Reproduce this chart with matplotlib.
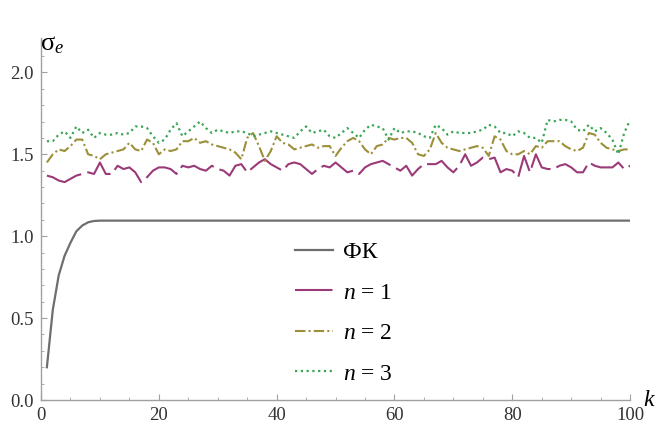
import matplotlib.pyplot as plt
from matplotlib.ticker import MultipleLocator, FormatStrFormatter

plt.rcParams['font.family'] = 'serif'
plt.rcParams['font.serif'] = ['Liberation Serif', 'DejaVu Serif']
plt.rcParams['mathtext.fontset'] = 'custom'
plt.rcParams['mathtext.rm'] = 'Liberation Serif'
plt.rcParams['mathtext.it'] = 'Liberation Serif:italic'

k = list(range(1, 101))

# filter (ФК) curve
fk = [0.20, 0.55, 0.76, 0.88, 0.96, 1.03, 1.065, 1.085, 1.093] + [1.095] * 91

n1 = [1.37, 1.36, 1.34, 1.33, 1.35, 1.37, 1.38, 1.39, 1.38, 1.45,
      1.38, 1.38, 1.43, 1.41, 1.42, 1.39, 1.33, 1.36, 1.40, 1.42,
      1.42, 1.41, 1.38, 1.43, 1.42, 1.43, 1.41, 1.40, 1.43, 1.41,
      1.40, 1.37, 1.43, 1.44, 1.39, 1.42, 1.45, 1.47, 1.44, 1.42,
      1.40, 1.44, 1.45, 1.44, 1.41, 1.38, 1.41, 1.43, 1.42, 1.45,
      1.42, 1.39, 1.40, 1.38, 1.42, 1.44, 1.45, 1.46, 1.44, 1.42,
      1.40, 1.43, 1.37, 1.41, 1.44, 1.44, 1.44, 1.46, 1.42, 1.39,
      1.43, 1.50, 1.43, 1.45, 1.48, 1.47, 1.48, 1.39, 1.41, 1.40,
      1.36, 1.49, 1.39, 1.50, 1.42, 1.41, 1.41, 1.43, 1.44, 1.42,
      1.39, 1.39, 1.45, 1.43, 1.42, 1.42, 1.42, 1.45, 1.41, 1.43]

n2 = [1.45, 1.50, 1.53, 1.52, 1.55, 1.59, 1.59, 1.50, 1.49, 1.47,
      1.50, 1.51, 1.52, 1.53, 1.57, 1.53, 1.52, 1.59, 1.57, 1.50,
      1.53, 1.52, 1.53, 1.58, 1.58, 1.60, 1.57, 1.58, 1.56, 1.55,
      1.54, 1.53, 1.51, 1.47, 1.60, 1.63, 1.55, 1.46, 1.52, 1.61,
      1.57, 1.56, 1.53, 1.54, 1.55, 1.56, 1.54, 1.55, 1.55, 1.49,
      1.54, 1.58, 1.60, 1.58, 1.53, 1.50, 1.55, 1.56, 1.60, 1.59,
      1.60, 1.60, 1.57, 1.50, 1.49, 1.53, 1.63, 1.57, 1.54, 1.53,
      1.52, 1.53, 1.54, 1.55, 1.54, 1.49, 1.61, 1.59, 1.52, 1.50,
      1.50, 1.52, 1.50, 1.55, 1.54, 1.58, 1.58, 1.58, 1.55, 1.53,
      1.52, 1.54, 1.63, 1.62, 1.57, 1.54, 1.53, 1.52, 1.53, 1.53]

n3 = [1.58, 1.58, 1.62, 1.64, 1.60, 1.67, 1.63, 1.65, 1.60, 1.63,
      1.62, 1.62, 1.63, 1.62, 1.63, 1.67, 1.67, 1.66, 1.61, 1.57,
      1.59, 1.65, 1.69, 1.61, 1.64, 1.67, 1.70, 1.66, 1.63, 1.65,
      1.64, 1.63, 1.64, 1.64, 1.63, 1.61, 1.62, 1.63, 1.64, 1.63,
      1.62, 1.61, 1.60, 1.64, 1.67, 1.63, 1.64, 1.65, 1.61, 1.60,
      1.63, 1.66, 1.63, 1.60, 1.65, 1.68, 1.67, 1.66, 1.59, 1.66,
      1.63, 1.64, 1.64, 1.63, 1.61, 1.60, 1.68, 1.66, 1.62, 1.64,
      1.63, 1.63, 1.63, 1.64, 1.65, 1.68, 1.67, 1.63, 1.63, 1.61,
      1.64, 1.63, 1.60, 1.60, 1.57, 1.71, 1.70, 1.71, 1.71, 1.70,
      1.65, 1.64, 1.68, 1.64, 1.66, 1.63, 1.59, 1.50, 1.63, 1.71]

fig = plt.figure(figsize=(6.55, 4.25), dpi=100)
ax = fig.add_axes([0.0626, 0.0588, 0.8994, 0.8518])

ax.plot(k, fk, color='#6e6e6e', lw=1.6, label='ФК')
ax.plot(k, n1, color='#9b3a78', lw=1.5, ls=(0, (18, 3)), label='$n$ = 1')
ax.plot(k, n2, color='#9c8f3a', lw=1.5, ls=(0, (5, 1.5, 1, 1.5)), label='$n$ = 2')
ax.plot(k, n3, color='#3aa655', lw=1.6, ls=(0, (1, 1.6)), label='$n$ = 3')

ax.set_xlim(0, 100)
ax.set_ylim(0, 2.21)
ax.xaxis.set_major_locator(MultipleLocator(20))
ax.xaxis.set_minor_locator(MultipleLocator(5))
ax.yaxis.set_major_locator(MultipleLocator(0.5))
ax.yaxis.set_minor_locator(MultipleLocator(0.1))
ax.yaxis.set_major_formatter(FormatStrFormatter('%.1f'))
ax.set_yticks([0, 0.5, 1.0, 1.5, 2.0])

for s in ['top', 'right']:
    ax.spines[s].set_visible(False)
for s in ['left', 'bottom']:
    ax.spines[s].set_color('#a0a0a0')
    ax.spines[s].set_linewidth(1.0)
ax.tick_params(which='major', direction='in', length=4, color='#a0a0a0',
               labelsize=13.5, labelcolor='#333333')
ax.tick_params(which='minor', direction='in', length=2.5, color='#a0a0a0')
ax.tick_params(axis='x', pad=5)
ax.tick_params(axis='y', pad=5)

fig.text(40 / 655, 1 - 45 / 425, 'σ$_{e}$', fontsize=19, va='center', ha='left')
fig.text(643 / 655, 1 - 400 / 425, '$k$', fontsize=17, va='center', ha='left')

ax.legend(loc='upper left', bbox_to_anchor=(283 / 655, 1 - 230 / 425),
          bbox_transform=fig.transFigure, frameon=False, fontsize=17,
          handlelength=1.6, labelspacing=0.8, borderpad=0, handletextpad=0.45)

fig.savefig('out.png', dpi=100)
